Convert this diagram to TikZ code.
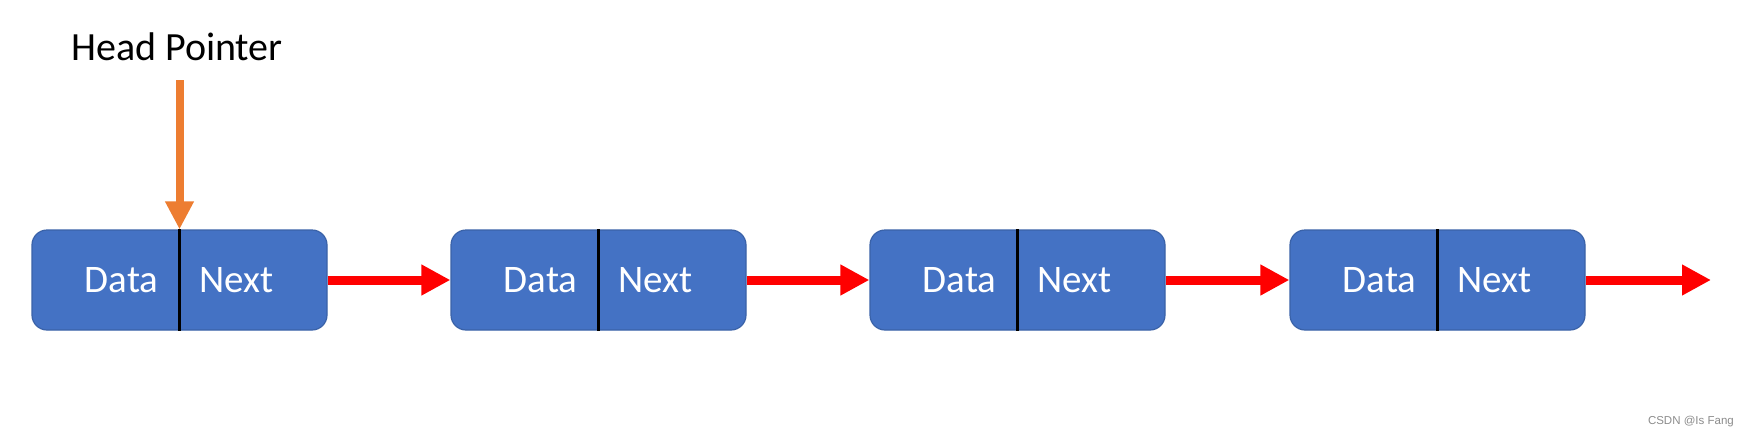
\documentclass[tikz,border=0pt]{standalone}
\usepackage{fontspec}
\setmainfont{Carlito}
\newfontfamily\wmfont{Liberation Sans}
\usetikzlibrary{arrows.meta}
\definecolor{boxblue}{HTML}{4472C4}
\definecolor{boxedge}{HTML}{3A62A8}
\definecolor{headorange}{HTML}{ED7D31}
\definecolor{linkred}{HTML}{FF0000}
\begin{document}
\begin{tikzpicture}[x=1pt,y=-1pt,
  listnode/.style={draw=boxedge, line width=1.2pt, fill=boxblue, rounded corners=15pt,
    minimum width=295pt, minimum height=100pt, inner sep=0pt},
  divider/.style={draw=black, line width=3pt},
  celltext/.style={text=white, inner sep=0pt, font=\fontsize{39}{44}\selectfont},
  link/.style={draw=linkred, line width=9pt, -{Triangle[length=29pt,width=29pt]}},
  headarrow/.style={draw=headorange, line width=8pt, -{Triangle[length=28pt,width=27pt]}},
  headlabel/.style={inner sep=0pt, font=\fontsize{40}{46}\selectfont},
  watermark/.style={inner sep=0pt, text=black!45, font=\wmfont\fontsize{11.5}{13}\selectfont}
]
\useasboundingbox[fill=white] (0,0) rectangle (1750,439);
\foreach \i/\x in {1/179.5, 2/598.5, 3/1017.5, 4/1437.5} {
  \node[listnode] (n\i) at (\x,280) {};
  \draw[divider] (n\i.north) -- (n\i.south);
  \node[celltext, anchor=east] (d\i) at ([xshift=-21pt]n\i.center) {Data};
  \node[celltext, anchor=west] (x\i) at ([xshift=20pt]n\i.center) {Next};
}
\draw[link] (n1.east) -- (n2.west);
\draw[link] (n2.east) -- (n3.west);
\draw[link] (n3.east) -- (n4.west);
\coordinate (tail) at (1711,280);
\draw[link] (n4.east) -- (tail);
\node[headlabel, anchor=base] (hl) at (177,60) {Head Pointer};
\coordinate (hptop) at (179.5,80);
\draw[headarrow] (hptop) -- (n1.north);
\node[watermark, anchor=east] (wm) at (1734,422) {CSDN @Is Fang};
\end{tikzpicture}
\end{document}
